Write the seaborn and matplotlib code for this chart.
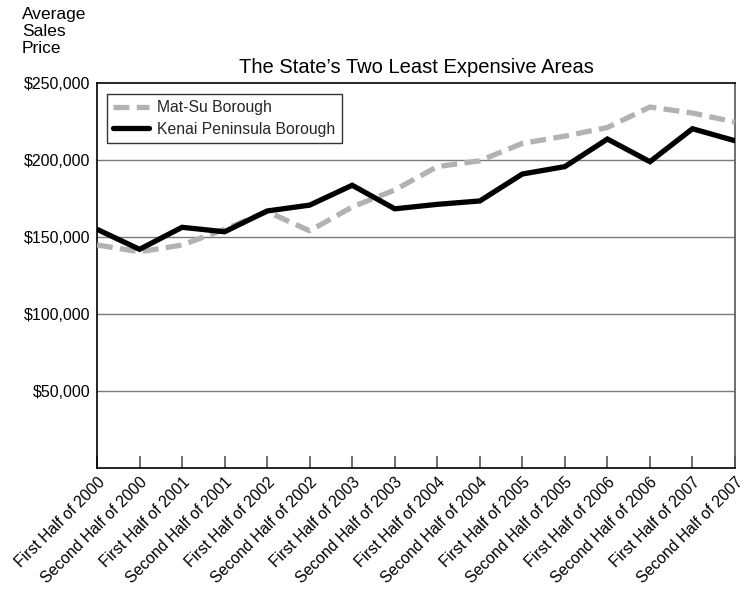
import matplotlib
matplotlib.use("Agg")
import matplotlib.pyplot as plt
import seaborn as sns
import pandas as pd

periods = [
    "First Half of 2000", "Second Half of 2000",
    "First Half of 2001", "Second Half of 2001",
    "First Half of 2002", "Second Half of 2002",
    "First Half of 2003", "Second Half of 2003",
    "First Half of 2004", "Second Half of 2004",
    "First Half of 2005", "Second Half of 2005",
    "First Half of 2006", "Second Half of 2006",
    "First Half of 2007", "Second Half of 2007",
]
mat_su = [144800, 140400, 144800, 155000, 166500, 154000, 169500, 180500,
          195700, 199500, 210800, 215500, 221100, 234400, 230500, 224600]
kenai = [155000, 142000, 156300, 153400, 166900, 170700, 183600, 168300,
         171200, 173400, 190900, 195700, 213600, 198900, 220300, 212500]
series_names = ["Mat-Su Borough", "Kenai Peninsula Borough"]
y_ticks = [50000, 100000, 150000, 200000, 250000]

df = pd.DataFrame({
    "idx": list(range(len(periods))) * 2,
    "price": mat_su + kenai,
    "area": [series_names[0]] * len(periods) + [series_names[1]] * len(periods),
})

sns.set_theme(style="white")
plt.rcParams["font.family"] = ["Liberation Sans", "DejaVu Sans"]

fig = plt.figure(figsize=(7.41, 5.90), dpi=100)
ax = fig.add_axes([97 / 741, 1 - 468 / 590, (735 - 97) / 741, (468 - 83) / 590])

# horizontal reference lines
for v in y_ticks[:-1]:
    ax.axhline(v, color="#7a7a7a", linewidth=1.0, zorder=1)

sns.lineplot(
    data=df, x="idx", y="price", hue="area", style="area",
    hue_order=series_names, style_order=series_names,
    palette={series_names[0]: "#b2b2b2", series_names[1]: "#000000"},
    dashes={series_names[0]: (3.0, 1.4), series_names[1]: ""},
    linewidth=3.8, ax=ax, zorder=3,
)
for ln in ax.get_lines():
    ln.set_solid_joinstyle("miter")
    ln.set_dash_capstyle("butt")

ax.set_xlim(0, len(periods) - 1)
ax.set_ylim(0, 250000)
ax.set_yticks(y_ticks)
ax.set_yticklabels([f"${v:,.0f}" for v in y_ticks], fontsize=11.5, color="#000000")
ax.tick_params(axis="y", length=0, pad=5)

ax.set_xticks(range(len(periods)))
ax.set_xticklabels(periods, rotation=45, ha="right", rotation_mode="anchor",
                   fontsize=11.3, color="#000000")
ax.tick_params(axis="x", bottom=True, direction="in", length=9, width=1.2,
               color="#555555", pad=5)

ax.set_xlabel("")
ax.set_ylabel("")
for side in ["left", "bottom", "top"]:
    ax.spines[side].set_color("#000000")
    ax.spines[side].set_linewidth(1.2)
ax.spines["right"].set_color("#555555")
ax.spines["right"].set_linewidth(1.2)

ax.set_title("The State\u2019s Two Least Expensive Areas", fontsize=14.5, pad=7, color="#000000")
fig.text(22 / 741, 1 - 7 / 590, "Average\nSales\nPrice", ha="left", va="top",
         fontsize=12.5, linespacing=1.15, color="#000000")

leg = ax.legend(loc="upper left", bbox_to_anchor=(0.0155, 0.971), frameon=True,
                fancybox=False, edgecolor="#000000", fontsize=11.3,
                handlelength=2.3, handletextpad=0.5, borderpad=0.4,
                labelspacing=0.4, borderaxespad=0)
leg.get_frame().set_linewidth(1.0)
leg.set_title(None)

fig.savefig("out.png", dpi=100, facecolor="white")
